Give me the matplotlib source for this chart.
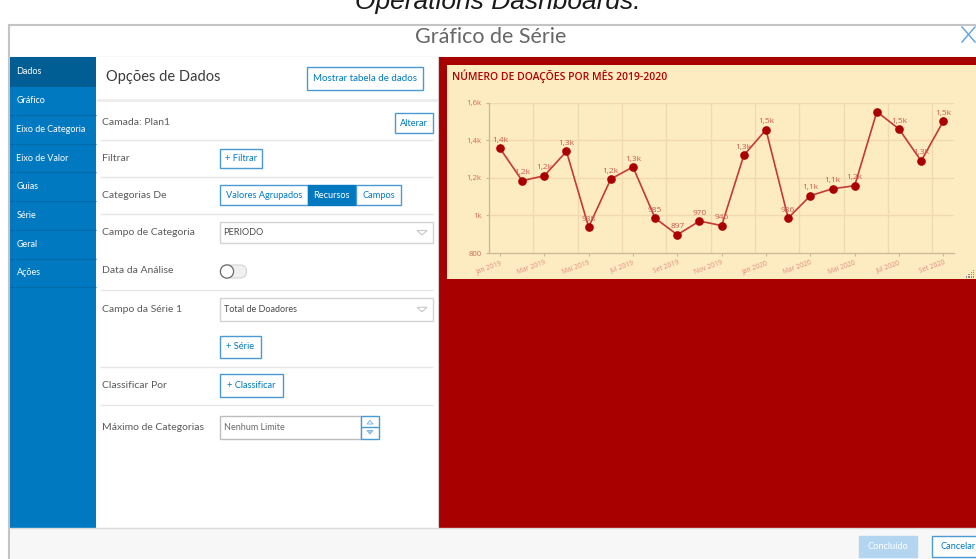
import numpy as np
import matplotlib
matplotlib.use("Agg")
import matplotlib.pyplot as plt
from matplotlib.patches import Rectangle, FancyBboxPatch, Circle, Polygon

# ---- chart data ----
months = ["Jan 2019", "Fev 2019", "Mar 2019", "Abr 2019", "Mai 2019", "Jun 2019",
          "Jul 2019", "Ago 2019", "Set 2019", "Out 2019", "Nov 2019", "Dez 2019",
          "Jan 2020", "Fev 2020", "Mar 2020", "Abr 2020", "Mai 2020", "Jun 2020",
          "Jul 2020", "Ago 2020", "Set 2020"]
doadores = [1357, 1185, 1211, 1341, 938, 1194, 1258, 985, 897, 970, 946, 1320,
            1456, 986, 1105, 1142, 1158, 1552, 1460, 1290, 1502]
point_labels = ["1,4k", "1,2k", "1,2k", "1,3k", "938", "1,2k", "1,3k", "985", "897",
                "970", "946", "1,3k", "1,5k", "986", "1,1k", "1,1k", "1,2k", "",
                "1,5k", "1,3k", "1,5k"]
y_ticks = [800, 1000, 1200, 1400, 1600]
y_tick_labels = ["800", "1k", "1,2k", "1,4k", "1,6k"]

# ---- dialog texts ----
menu_items = ["Dados", "Gráfico", "Eixo de Categoria", "Eixo de Valor", "Guias",
              "Série", "Geral", "Ações"]

W, H = 976, 559
BLUE = "#0079c1"
BLUE_DARK = "#005e95"
BTN_EDGE = "#4a9bd4"
TXT = "#5a5a5a"
RED_PANEL = "#a80000"
CARD = "#fdebc2"
UI_FONT = "Lato"

fig = plt.figure(figsize=(W / 100, H / 100), dpi=100)
ui = fig.add_axes([0, 0, 1, 1])
ui.set_xlim(0, W)
ui.set_ylim(H, 0)
ui.axis("off")


def rect(x0, y0, x1, y1, fc, ec="none", lw=1.0, z=1):
    ui.add_patch(Rectangle((x0, y0), x1 - x0, y1 - y0, facecolor=fc,
                           edgecolor=ec, linewidth=lw, zorder=z))


def hline(y, x0, x1, color="#e6e6e6", lw=1.0, z=2):
    ui.plot([x0, x1], [y, y], color=color, lw=lw, zorder=z, solid_capstyle="butt")


def button(x0, y0, x1, y1, text, fc="white", tc=BLUE, ec=BTN_EDGE, fs=6.7):
    rect(x0, y0, x1, y1, fc, ec, lw=1.0, z=3)
    ui.text((x0 + x1) / 2, (y0 + y1) / 2, text, ha="center", va="center",
            fontsize=fs, color=tc, family=UI_FONT, zorder=4)


def label(y, text):
    ui.text(102, y, text, ha="left", va="center", fontsize=7.5, color=TXT,
            family=UI_FONT, zorder=4)


def chevron(x, y):
    ui.add_patch(Polygon([[x - 5, y - 2], [x + 5, y - 2], [x, y + 2.5]], closed=True,
                         fill=False, edgecolor="#c8c8c8", lw=0.8, zorder=4))


# page background and caption cut at the top (as in the screenshot)
rect(0, 0, W, H, "white", z=0)
ui.text(498, 9, "Operations Dashboards.", ha="center", va="baseline", fontsize=19,
        style="italic", color="#1a1a1a", family="Liberation Sans", zorder=2)

# dialog frame + header
rect(9, 25, W + 5, H + 5, "white", ec="#c4c4c4", lw=1.5, z=1)
ui.text(491, 37, "Gráfico de Série", ha="center", va="center", fontsize=15.5,
        color="#666666", family=UI_FONT, zorder=4)
ui.plot([962, 975], [27, 42], color="#5aa0dc", lw=1.0, zorder=4)
ui.plot([962, 975], [42, 27], color="#5aa0dc", lw=1.0, zorder=4)
hline(56.5, 9, W, color="#e0e0e0")

# left menu
rect(10, 57, 95.5, 528, BLUE, z=2)
rect(10, 57, 95.5, 87, BLUE_DARK, z=2)
for i, item in enumerate(menu_items):
    yc = 72 + i * 28.7
    ui.text(16.5, yc, item, ha="left", va="center", fontsize=6.5, color="white",
            family=UI_FONT, zorder=4)
    if i > 0:
        hline(yc + 14.3, 10, 95.5, color="#0069a8", lw=0.8, z=3)

# options panel
rect(96, 57, 438, 528, "white", z=2)
ui.plot([438.3, 438.3], [57, 528], color="#d0d0d0", lw=0.8, zorder=3)
ui.text(106, 77.5, "Opções de Dados", ha="left", va="center", fontsize=10.5,
        color="#3c3c3c", family=UI_FONT, zorder=4)
button(307, 67, 422.7, 90, "Mostrar tabela de dados", fs=7.0)
hline(100, 96, 438, color="#ececec", lw=2.0)

label(122.3, "Camada: Plan1")
button(395, 113.3, 432.7, 132.7, "Alterar")
hline(140, 100, 433)

label(158.7, "Filtrar")
button(220, 149.3, 261.7, 168.3, "+ Filtrar")
hline(176.7, 100, 433)

label(195, "Categorias De")
button(220, 185.3, 307.7, 204.7, "Valores Agrupados")
button(307.7, 185.3, 356, 204.7, "Recursos", fc=BLUE, tc="white", ec=BLUE)
button(356, 185.3, 401.3, 204.7, "Campos")
hline(213.7, 100, 433)

label(232.7, "Campo de Categoria")
rect(220, 221.7, 432.7, 243.3, "white", ec="#d4d4d4", z=3)
ui.text(223.5, 232.5, "PERIODO", ha="left", va="center", fontsize=6.6, color="#4a4a4a",
        family=UI_FONT, zorder=4)
chevron(422, 232.5)

label(270.7, "Data da Análise")
ui.add_patch(FancyBboxPatch((220.5, 265), 26, 13, boxstyle="round,pad=0,rounding_size=6.5",
                            facecolor="#f0f0f0", edgecolor="#d4d4d4", lw=0.8, zorder=3))
ui.add_patch(Circle((227, 271.5), 6.6, facecolor="white", edgecolor="#6a6a6a",
                    lw=0.9, zorder=4))
hline(290, 100, 433)

label(309.3, "Campo da Série 1")
rect(220, 297.7, 432.7, 320.7, "white", ec="#d4d4d4", z=3)
ui.text(223.5, 309.3, "Total de Doadores", ha="left", va="center", fontsize=6.5,
        color="#4a4a4a", family=UI_FONT, zorder=4)
chevron(422, 309.3)
button(220, 336, 261, 357.7, "+ Série")
hline(366.7, 100, 433)

label(385.3, "Classificar Por")
button(220, 374, 282.7, 396.7, "+ Classificar")
hline(404.7, 100, 433)

label(427.3, "Máximo de Categorias")
rect(220, 416, 360.7, 438.7, "white", ec="#bdbdbd", z=3)
ui.text(223.5, 427.3, "Nenhum Limite", ha="left", va="center", fontsize=6.5,
        color="#6a6a6a", family=UI_FONT, zorder=4)
rect(360.7, 416, 379.3, 438.7, "white", ec=BTN_EDGE, z=3)
hline(427.3, 360.7, 379.3, color=BTN_EDGE, lw=1.0, z=4)
ui.add_patch(Polygon([[367, 424], [373, 424], [370, 420.5]], closed=True, fill=False,
                     edgecolor="#7fb6e0", lw=0.7, zorder=5))
ui.add_patch(Polygon([[367, 430.5], [373, 430.5], [370, 434]], closed=True,
                     facecolor="#a9cdeb", edgecolor="#7fb6e0", lw=0.7, zorder=5))

# footer
rect(9.5, 528, W, H, "#f7f7f7", z=2)
hline(528, 9.5, W, color="#dadada", lw=1.0, z=3)
button(859.3, 535.7, 916.7, 557, "Concluído", fc="#b3d5ef", tc="white", ec="#b3d5ef")
button(931.7, 535.7, 985, 557, "Cancelar", ec=BTN_EDGE)

# preview panel
rect(439, 57, W, 528, RED_PANEL, z=2)
rect(446.7, 65, W + 5, 279.3, CARD, z=3)
ui.text(451.7, 76.7, "NÚMERO DE DOAÇÕES POR MÊS 2019-2020", ha="left", va="center",
        fontsize=7.5, color="#b00000", family="Open Sans", fontweight="semibold", zorder=4)
for k in range(4):
    for j in range(k + 1):
        ui.add_patch(Rectangle((973 - 2.3 * j, 269.5 + 2.3 * k), 1.2, 1.2,
                               facecolor="#8a8a8a", edgecolor="none", zorder=5))

# ---- the chart itself ----
left, right, top, bottom = 489.3, 954.0, 102.7, 253.0
ax = fig.add_axes([left / W, (H - bottom) / H, (right - left) / W, (bottom - top) / H])
ax.set_facecolor("none")
x = np.arange(len(months))
ax.set_xlim(-0.48, len(months) - 0.52)
ax.set_ylim(800, 1600)

grid_c = "#f0d9ad"
for yv in y_ticks[1:]:
    ax.axhline(yv, color=grid_c, lw=0.9, zorder=0)
for xv in np.arange(1.5, len(months) - 1, 2):
    ax.axvline(xv, color=grid_c, lw=0.9, zorder=0)

ax.plot(x, doadores, color="#c43a36", lw=1.2, zorder=3, marker="o", markersize=5.2,
        markerfacecolor="#aa0000", markeredgecolor="#aa0000")
for xi, yi, txt in zip(x, doadores, point_labels):
    if txt:
        ax.annotate(txt, (xi, yi), xytext=(0, 3.2), textcoords="offset points",
                    ha="center", va="bottom", fontsize=6.0, color="#cc5b52",
                    family="Open Sans", zorder=4)

for s in ["top", "right"]:
    ax.spines[s].set_visible(False)
for s in ["left", "bottom"]:
    ax.spines[s].set_color("#c9b79a")
    ax.spines[s].set_linewidth(0.9)

ax.set_yticks(y_ticks)
ax.set_yticklabels(y_tick_labels)
ax.set_xticks(x[::2])
ax.set_xticklabels(months[::2], rotation=20, ha="right", rotation_mode="anchor")
ax.tick_params(axis="both", colors="#c9b79a", length=2.5, width=0.8)
ax.tick_params(axis="y", labelsize=5.6, labelcolor="#d06a60", pad=3)
ax.tick_params(axis="x", labelsize=4.9, labelcolor="#e08a80", pad=2)
for t in ax.get_xticklabels() + ax.get_yticklabels():
    t.set_family("Open Sans")

fig.savefig("out.png", dpi=100)
